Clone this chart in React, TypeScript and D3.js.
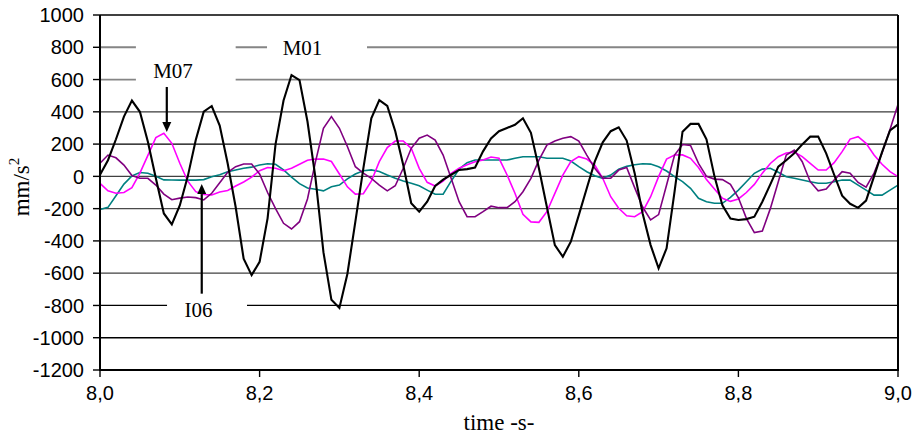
import React from 'react';
import * as d3 from 'd3';

// ---- data (mm/s^2), sampled every 0.01 s from 8.00 s to 9.00 s ----
const startTime = 8.0;
const sampleStep = 0.01;

const seriesM01 = [10, 100, 230, 370, 470, 400, 215, -12, -230, -298, -180, 0, 225, 401, 436, 315, 80, -190, -510, -612, -530, -260, 200, 470, 628, 597, 340, -10, -470, -765, -815, -605, -280, 50, 360, 473, 436, 280, 70, -167, -219, -157, -60, -20, 10, 40, 45, 55, 155, 235, 280, 300, 320, 360, 270, 50, -190, -426, -498, -405, -240, -74, 91, 211, 280, 304, 222, 20, -230, -426, -570, -446, -95, 277, 325, 325, 230, 0, -180, -262, -270, -265, -250, -157, -50, 60, 100, 143, 198, 246, 246, 143, 10, -120, -170, -195, -150, 0, 150, 285, 322];

const seriesM07 = [-43, -90, -105, -100, -70, 20, 130, 240, 267, 205, 81, -30, -95, -112, -115, -97, -88, -60, -35, -5, 35, 55, 50, 35, 50, 75, 100, 108, 107, 92, 15, -65, -110, -108, -30, 91, 178, 219, 219, 174, 50, -37, -60, -29, 19, 50, 72, 91, 101, 120, 112, 10, -105, -235, -282, -285, -219, -105, 8, 91, 122, 107, 70, -12, -126, -198, -244, -250, -219, -126, -2, 107, 132, 133, 112, 55, -20, -79, -136, -155, -140, -100, -50, 20, 80, 122, 145, 150, 122, 81, 39, 39, 85, 153, 231, 246, 205, 132, 75, 29, -2];

const seriesPurple = [81, 132, 115, 70, 5, -12, -12, -54, -110, -145, -135, -128, -132, -146, -105, -40, 25, 60, 77, 77, 15, -100, -200, -291, -326, -281, -140, 90, 298, 370, 298, 185, 60, 20, -12, -54, -90, -58, 50, 174, 236, 256, 225, 132, -12, -157, -250, -250, -219, -185, -194, -194, -157, -95, -12, 101, 194, 219, 236, 246, 219, 132, 50, -12, -12, 39, 55, -70, -190, -270, -237, -54, 132, 197, 192, 81, 0, -17, -20, -50, -133, -260, -348, -339, -200, -33, 132, 163, 91, -33, -90, -79, -23, 29, 20, -38, -67, 20, 145, 290, 446];

const seriesI06 = [-205, -192, -120, -48, 3, 24, 19, 0, -22, -23, -23, -23, -23, -20, -2, 10, 28, 40, 50, 57, 70, 78, 75, 40, -5, -45, -72, -80, -90, -64, -54, -15, 15, 35, 40, 30, 8, -12, -29, -43, -58, -85, -111, -111, -30, 45, 85, 101, 101, 101, 101, 101, 112, 122, 122, 122, 112, 112, 112, 95, 60, 29, 4, -12, 8, 45, 62, 72, 78, 76, 60, 33, -2, -33, -74, -136, -157, -167, -167, -130, -85, -33, 19, 45, 50, 25, -2, -12, -23, -33, -43, -43, -33, -23, -23, -54, -85, -116, -116, -85, -54];

const yTicks = [-1200, -1000, -800, -600, -400, -200, 0, 200, 400, 600, 800, 1000];
const xTicks = [8.0, 8.2, 8.4, 8.6, 8.8, 9.0];

const xTitle = 'time -s-';
const yTitle = 'mm/s';

// annotations (data coordinates)
const labelNames = ['M07', 'M01', 'I06'];
const labelTimes = [8.0915, 8.2538, 8.1234];
const labelValues = [610, 752, -871];
const boxTimes = [[8.045, 8.170], [8.2093, 8.3346], [8.084, 8.1842]];
const boxValues = [[845, 560], [907, 696], [-717, -952]];
const arrowTimes = [8.0837, 8.1275];
const arrowFrom = [554, -727];
const arrowTo = [275, -48];

// ---- layout / style ----
const W = 920;
const H = 436;
const left = 100;
const right = 898;
const top = 15;
const bottom = 370;

const seriesStyles = [
  { data: seriesI06, color: '#008080', width: 1.6 },
  { data: seriesM07, color: '#FF00FF', width: 1.6 },
  { data: seriesPurple, color: '#800080', width: 1.6 },
  { data: seriesM01, color: '#000000', width: 2.1 },
];

const gridColor: Record<number, string> = {
  800: '#858585',
  600: '#858585',
  400: '#3a3a3a',
  200: '#000000',
  0: '#404040',
  '-200': '#4a4a4a',
  '-400': '#7a7a7a',
  '-600': '#404040',
  '-800': '#000000',
  '-1000': '#000000',
};

const sansFont = '"Liberation Sans", Arial, sans-serif';
const serifFont = '"Liberation Serif", "Times New Roman", serif';

const commaFmt = d3.formatLocale({ decimal: ',', thousands: '.', grouping: [3], currency: ['', ''] }).format('.1f');

export default function App() {
  const x = d3.scaleLinear().domain([8.0, 9.0]).range([left, right]);
  const y = d3.scaleLinear().domain([-1200, 1000]).range([bottom, top]);

  const line = d3
    .line<number>()
    .x((_, i) => x(startTime + i * sampleStep))
    .y((d) => y(d));

  return (
    <svg
      width={W}
      height={H}
      viewBox={`0 0 ${W} ${H}`}
      style={{ position: 'fixed', left: 0, top: 0, background: '#fff' }}
    >
      <rect x={0} y={0} width={W} height={H} fill="#fff" />
      {/* gridlines */}
      {yTicks
        .filter((v) => v !== -1200 && v !== 1000)
        .map((v) => (
          <line
            key={'g' + v}
            x1={left}
            x2={right}
            y1={y(v)}
            y2={y(v)}
            stroke={gridColor[v] || '#000'}
            strokeWidth={v === 800 || v === 600 || v === -400 ? 1.8 : 1.3}
          />
        ))}
      {/* label boxes hiding grid */}
      {boxTimes.map((bt, i) => (
        <rect
          key={'b' + i}
          x={x(bt[0])}
          y={y(boxValues[i][0])}
          width={x(bt[1]) - x(bt[0])}
          height={y(boxValues[i][1]) - y(boxValues[i][0])}
          fill="#fff"
        />
      ))}
      {/* series */}
      {seriesStyles.map((s, i) => (
        <path
          key={'s' + i}
          d={line(s.data) || ''}
          fill="none"
          stroke={s.color}
          strokeWidth={s.width}
          strokeLinejoin="miter"
        />
      ))}
      {/* frame */}
      <line x1={left} x2={right} y1={top} y2={top} stroke="#000" strokeWidth={1.6} />
      <line x1={right} x2={right} y1={top} y2={bottom} stroke="#000" strokeWidth={2} />
      <line x1={left} x2={left} y1={top} y2={bottom + 1} stroke="#000" strokeWidth={2} />
      <line x1={left - 1} x2={right + 1} y1={bottom} y2={bottom} stroke="#000" strokeWidth={2} />
      {/* y ticks */}
      {yTicks.map((v) => (
        <g key={'yt' + v}>
          <line x1={left - 7} x2={left} y1={y(v)} y2={y(v)} stroke="#000" strokeWidth={1.4} />
          <text
            x={left - 16}
            y={y(v)}
            dy="0.36em"
            textAnchor="end"
            fontFamily={sansFont}
            fontSize={20}
            fill="#000"
          >
            {String(v)}
          </text>
        </g>
      ))}
      {/* x ticks */}
      {xTicks.map((t) => (
        <g key={'xt' + t}>
          <line x1={x(t)} x2={x(t)} y1={bottom} y2={bottom + 7} stroke="#000" strokeWidth={1.4} />
          <text
            x={x(t)}
            y={bottom + 30}
            textAnchor="middle"
            fontFamily={sansFont}
            fontSize={20}
            fill="#000"
          >
            {commaFmt(t)}
          </text>
        </g>
      ))}
      {/* axis titles */}
      <text
        x={(left + right) / 2}
        y={430}
        textAnchor="middle"
        fontFamily={serifFont}
        fontSize={23}
        fill="#000"
      >
        {xTitle}
      </text>
      <text
        transform={`translate(29,187) rotate(-90)`}
        textAnchor="middle"
        fontFamily={serifFont}
        fontSize={23}
        fill="#000"
      >
        {yTitle}
        <tspan fontSize={15} dy={-10}>2</tspan>
      </text>
      {/* annotation labels */}
      {labelNames.map((n, i) => (
        <text
          key={'l' + n}
          x={x(labelTimes[i])}
          y={y(labelValues[i])}
          textAnchor="middle"
          fontFamily={serifFont}
          fontSize={21}
          fill="#000"
        >
          {n}
        </text>
      ))}
      {/* arrows */}
      {arrowTimes.map((t, i) => {
        const ax = x(t);
        const y0 = y(arrowFrom[i]);
        const y1 = y(arrowTo[i]);
        const dir = y1 > y0 ? 1 : -1;
        const headLen = 10;
        const headHalf = 4.5;
        return (
          <g key={'a' + i}>
            <line x1={ax} x2={ax} y1={y0} y2={y1 - dir * headLen} stroke="#000" strokeWidth={2.2} />
            <path
              d={`M${ax},${y1} L${ax - headHalf},${y1 - dir * headLen} L${ax + headHalf},${y1 - dir * headLen} Z`}
              fill="#000"
            />
          </g>
        );
      })}
    </svg>
  );
}
